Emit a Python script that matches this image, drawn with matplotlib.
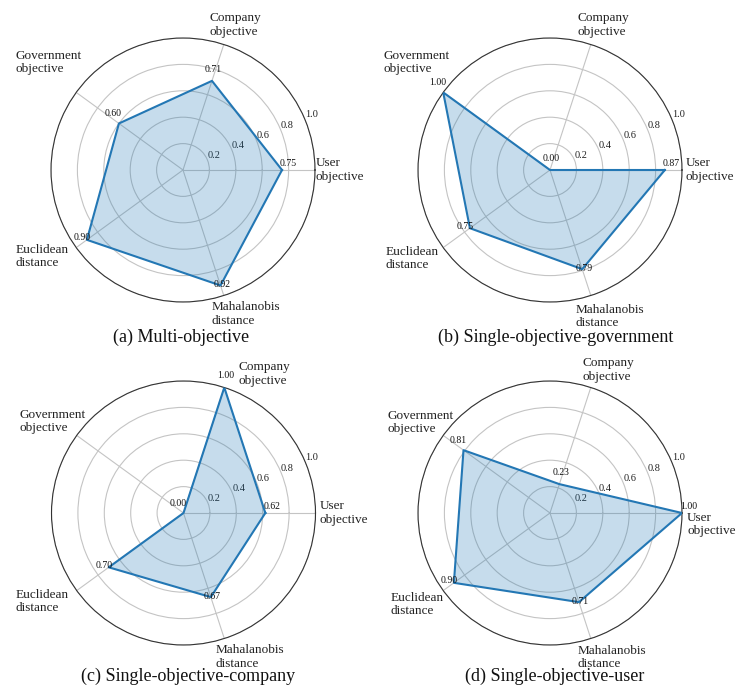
import numpy as np
import matplotlib
matplotlib.use("Agg")
import matplotlib.pyplot as plt

plt.rcParams['font.family'] = ['Liberation Serif', 'DejaVu Serif']

categories = ['User\nobjective', 'Company\nobjective', 'Government\nobjective',
              'Euclidean\ndistance', 'Mahalanobis\ndistance']
multi_objective = [0.75, 0.71, 0.60, 0.90, 0.92]
single_government = [0.87, 0.00, 1.00, 0.75, 0.79]
single_company = [0.62, 1.00, 0.00, 0.70, 0.67]
single_user = [1.00, 0.23, 0.81, 0.90, 0.71]
titles = ['(a) Multi-objective', '(b) Single-objective-government',
          '(c) Single-objective-company', '(d) Single-objective-user']
series = [multi_objective, single_government, single_company, single_user]
rticks = [0.2, 0.4, 0.6, 0.8, 1.0]
rtick_labels = ['0.2', '0.4', '0.6', '0.8', '1.0']

# layout (style)
W, H = 736, 688
D = 264
centers = [(183, 170), (550, 170), (183.5, 513), (550, 513)]
title_pos = [(181, 337), (556, 337), (188, 676), (555, 676)]
# category label offsets (pixels, dx right, dy down) from r=1 anchor to left/center of text
cat_offsets = [
    [(1, 0), (-14, -19.5), (-61, -30), (-61, 9), (-12, 18.5)],
    [(4, 0), (-13, -19.5), (-60, -30), (-58, 11), (-15, 21)],
    [(4, 0), (14, -13.5), (-57, -14), (-61, 11), (-9, 18.5)],
    [(5, 11.5), (-8, -17.5), (-56, -13), (-53, 14), (-13, 19)],
]
val_offsets = [(6.5, -6.5), (1.5, -11.5), (-5.5, -9.5), (-5, -2), (1.5, -0.5)]

line_color = '#2377b4'
fill_color = '#1f77b4'

fig = plt.figure(figsize=(W / 100, H / 100), dpi=100)
n = len(categories)
angles = np.linspace(0, 2 * np.pi, n, endpoint=False)

for k, vals in enumerate(series):
    cx, cy = centers[k]
    rect = [(cx - D / 2) / W, 1 - (cy + D / 2) / H, D / W, D / H]
    ax = fig.add_axes(rect, projection='polar')
    v = np.array(vals)
    a_closed = np.concatenate([angles, angles[:1]])
    v_closed = np.concatenate([v, v[:1]])
    ax.fill(a_closed, v_closed, color=fill_color, alpha=0.25, zorder=2, lw=0)
    ax.plot(a_closed, v_closed, color=line_color, lw=1.5, zorder=3)
    ax.set_ylim(0, 1.0)
    ax.set_yticks(rticks)
    ax.set_yticklabels(rtick_labels, fontsize=7.5, color='#222222')
    ax.set_xticks(angles)
    ax.set_xticklabels([])
    ax.grid(True, color='#c4c4c4', lw=0.8)
    ax.spines['polar'].set_color('#333333')
    ax.spines['polar'].set_linewidth(0.8)
    ax.tick_params(axis='y', pad=0)
    for i in range(n):
        dx, dy = cat_offsets[k][i]
        ax.annotate(categories[i], xy=(angles[i], 1.0), xytext=(dx, -dy),
                    textcoords='offset pixels', ha='left', va='center',
                    multialignment='left', fontsize=9.5, color='#222222',
                    annotation_clip=False)
        ox, oy = val_offsets[i]
        ax.annotate(f'{vals[i]:.2f}', xy=(angles[i], vals[i]), xytext=(ox, -oy),
                    textcoords='offset pixels', ha='center', va='center',
                    fontsize=7, color='#111111', zorder=5, annotation_clip=False)
    tx, ty = title_pos[k]
    fig.text(tx / W, 1 - ty / H, titles[k], ha='center', va='center',
             fontsize=13, color='#111111')

fig.savefig('out.png', dpi=100)
